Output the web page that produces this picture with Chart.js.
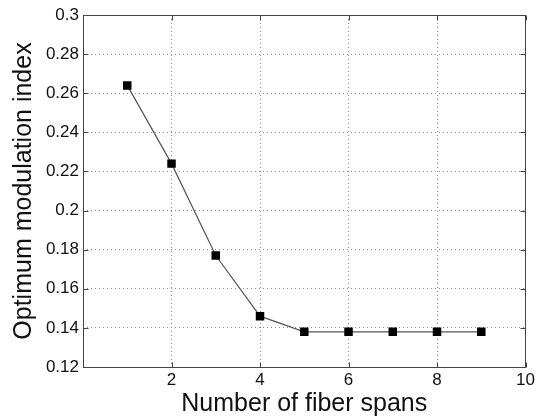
<!DOCTYPE html>
<html>
<head>
<meta charset="utf-8">
<script src="https://cdn.jsdelivr.net/npm/chart.js@4"></script>
<style>
  html, body { margin: 0; padding: 0; background: #fff; }
  canvas { display: block; }
</style>
</head>
<body>
<canvas id="grafico" width="538" height="418"></canvas>
<script>
// number of fiber spans vs optimum modulation index
const spans = [1, 2, 3, 4, 5, 6, 7, 8, 9];
const modIndex = [0.264, 0.224, 0.177, 0.146, 0.138, 0.138, 0.138, 0.138, 0.138];

const xTicks = [0, 2, 4, 6, 8, 10];
const yTicks = [0.12, 0.14, 0.16, 0.18, 0.2, 0.22, 0.24, 0.26, 0.28, 0.3];

const fonte = 'Liberation Sans, Arial, Helvetica, sans-serif';

// white background, then a box round the plot with short inward ticks
const caixa = {
  id: 'caixa',
  beforeDraw(chart) {
    const { ctx } = chart;
    ctx.save();
    ctx.fillStyle = '#fff';
    ctx.fillRect(0, 0, chart.width, chart.height);
    ctx.restore();
  },
  afterDatasetsDraw(chart) {
    const { ctx, chartArea: a, scales } = chart;
    const t = 5;
    const l = Math.round(a.left) + 0.5, r = Math.round(a.right) - 0.5;
    const top = Math.round(a.top) + 0.5, bot = Math.round(a.bottom) + 0.5;
    ctx.save();
    ctx.strokeStyle = '#444';
    ctx.lineWidth = 1;
    ctx.strokeRect(l, top, r - l, bot - top);
    ctx.beginPath();
    xTicks.forEach(v => {
      const x = Math.round(scales.x.getPixelForValue(v)) + 0.5;
      ctx.moveTo(x, bot); ctx.lineTo(x, bot - t);
      ctx.moveTo(x, top); ctx.lineTo(x, top + t);
    });
    yTicks.forEach(v => {
      const y = Math.round(scales.y.getPixelForValue(v)) + 0.5;
      ctx.moveTo(l, y); ctx.lineTo(l + t, y);
      ctx.moveTo(r, y); ctx.lineTo(r - t, y);
    });
    ctx.stroke();
    ctx.restore();
  }
};

new Chart(document.getElementById('grafico'), {
  type: 'line',
  data: {
    datasets: [{
      data: spans.map((s, i) => ({ x: s, y: modIndex[i] })),
      borderColor: '#555',
      borderWidth: 1.2,
      pointStyle: 'rect',
      pointRadius: 6,
      pointBackgroundColor: '#000',
      pointBorderColor: '#000',
      pointBorderWidth: 0,
      tension: 0
    }]
  },
  options: {
    responsive: false,
    animation: false,
    devicePixelRatio: 1,
    layout: { padding: { top: 15, right: 10, left: 0, bottom: 0 } },
    plugins: {
      legend: { display: false },
      tooltip: { enabled: false }
    },
    scales: {
      x: {
        type: 'linear',
        min: 0,
        max: 10,
        afterFit(scale) { scale.height = 51; },
        afterBuildTicks(scale) { scale.ticks = xTicks.map(v => ({ value: v })); },
        border: { display: false, dash: [1, 3] },
        grid: {
          color: '#8c8c8c',
          lineWidth: 1,
          drawTicks: false
        },
        ticks: {
          padding: 3,
          color: '#111',
          font: { family: fonte, size: 17 },
          callback: v => v === 0 ? '' : String(v)
        },
        title: {
          display: true,
          text: 'Number of fiber spans',
          color: '#111',
          font: { family: fonte, size: 25, lineHeight: 1 },
          padding: { top: 0, bottom: 1 }
        }
      },
      y: {
        min: 0.12,
        max: 0.3,
        afterFit(scale) { scale.width = 83; },
        afterBuildTicks(scale) { scale.ticks = yTicks.map(v => ({ value: v })); },
        border: { display: false, dash: [1, 3] },
        grid: {
          color: '#8c8c8c',
          lineWidth: 1,
          drawTicks: false
        },
        ticks: {
          padding: 4,
          color: '#111',
          font: { family: fonte, size: 17 },
          callback: v => String(+v.toFixed(2))
        },
        title: {
          display: true,
          text: 'Optimum modulation index',
          color: '#111',
          font: { family: fonte, size: 25, lineHeight: 1.2 },
          padding: { top: 9, bottom: 0 }
        }
      }
    }
  },
  plugins: [caixa]
});
</script>
</body>
</html>
